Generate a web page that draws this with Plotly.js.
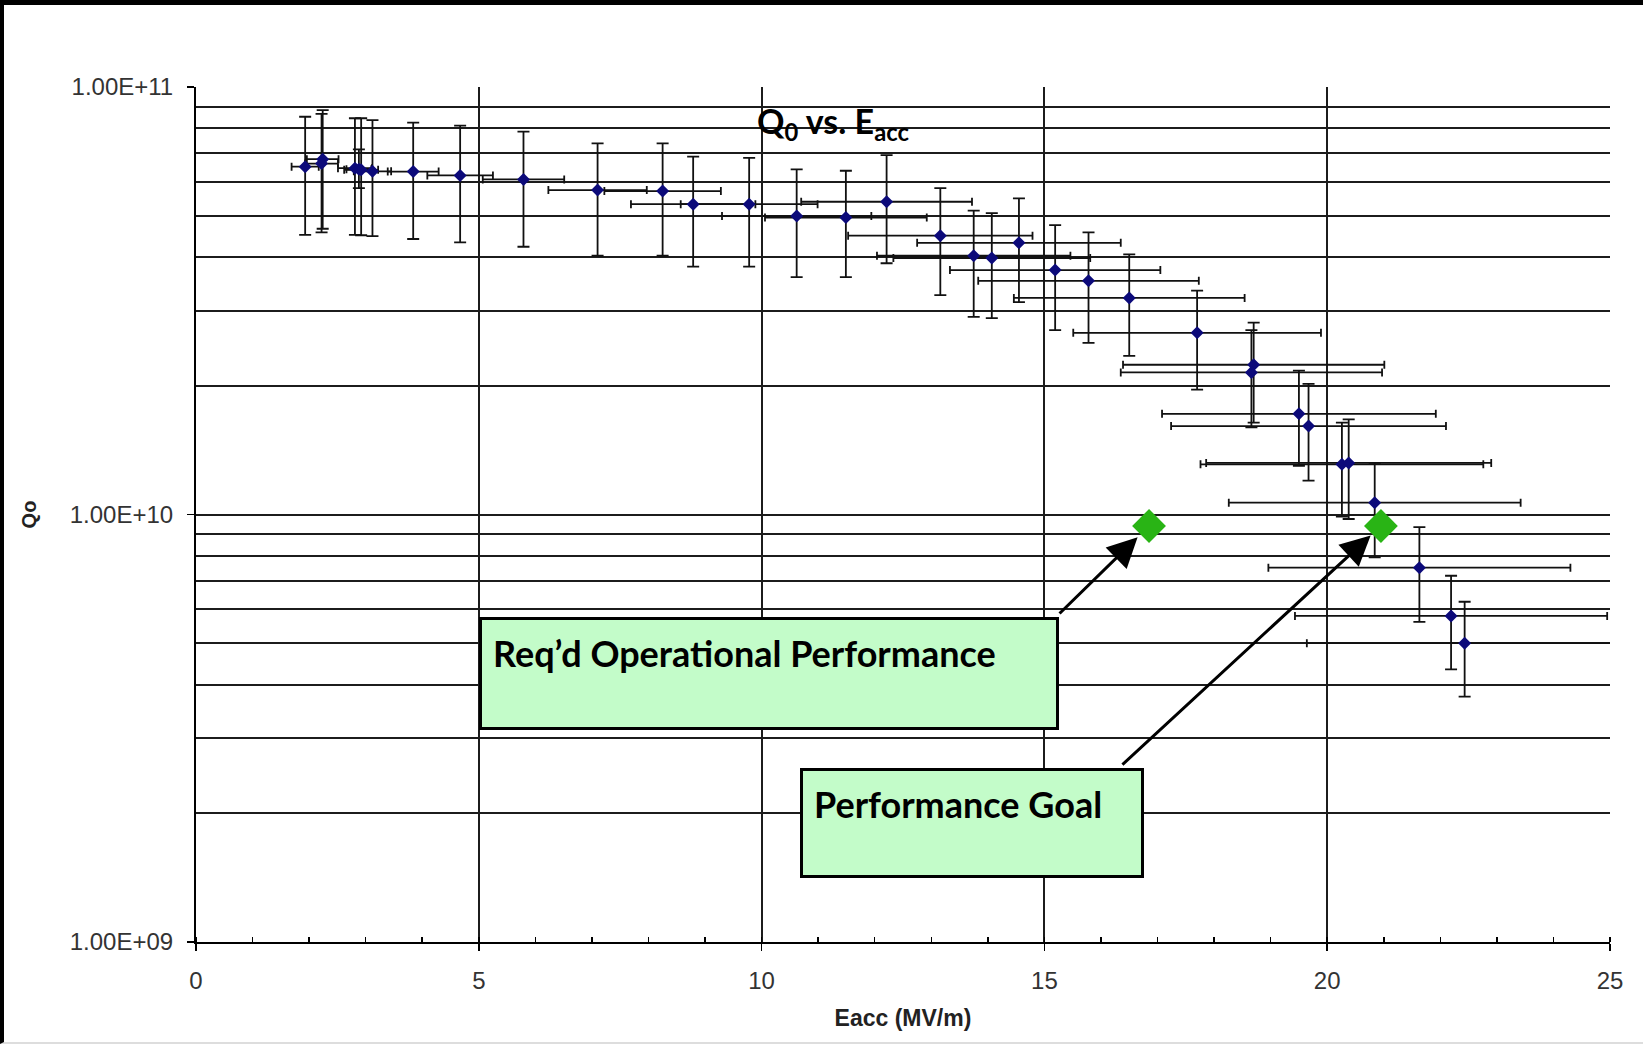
<!DOCTYPE html>
<html>
<head>
<meta charset="utf-8">
<script src="https://cdn.plot.ly/plotly-3.0.1.min.js"></script>
<style>
  html, body { margin: 0; padding: 0; background: #fff; }
  #chart { width: 1643px; height: 1044px; }
  #frame { position: absolute; left: 0; top: 0; width: 1643px; height: 1044px; box-sizing: border-box;
           border-top: 5px solid #000; border-left: 4px solid #000; border-bottom: 2px solid #ddd; pointer-events: none; }
</style>
</head>
<body>
<div id="chart"></div>
<div id="frame"></div>
<script>
const eacc    = [1.93, 2.24, 2.22, 2.81, 2.88, 2.92, 3.12, 3.84, 4.67, 5.79, 7.10, 8.25, 8.79, 9.78, 10.62, 11.49, 12.21, 13.16, 13.75, 14.07, 14.55, 15.19, 15.78, 16.50, 17.70, 18.70, 18.66, 19.50, 19.67, 20.26, 20.38, 20.84, 21.63, 22.19, 22.43];
const q0      = [6.51e10, 6.78e10, 6.62e10, 6.46e10, 6.42e10, 6.40e10, 6.35e10, 6.34e10, 6.21e10, 6.08e10, 5.74e10, 5.71e10, 5.32e10, 5.32e10, 4.99e10, 4.95e10, 5.39e10, 4.49e10, 4.03e10, 3.98e10, 4.32e10, 3.73e10, 3.52e10, 3.21e10, 2.66e10, 2.24e10, 2.15e10, 1.72e10, 1.61e10, 1.31e10, 1.32e10, 1.066e10, 7.51e9, 5.79e9, 5.00e9];
const q0High  = [8.52e10, 8.83e10, 8.65e10, 8.45e10, 7.15e10, 8.45e10, 8.37e10, 8.25e10, 8.12e10, 7.86e10, 7.38e10, 7.38e10, 6.87e10, 6.83e10, 6.42e10, 6.37e10, 6.93e10, 5.80e10, 5.14e10, 5.07e10, 5.49e10, 4.75e10, 4.57e10, 4.06e10, 3.34e10, 2.81e10, 2.70e10, 2.17e10, 2.02e10, 1.64e10, 1.67e10, 1.32e10, 9.34e9, 7.19e9, 6.25e9];
const q0Low   = [4.51e10, 4.66e10, 4.57e10, 4.51e10, 5.80e10, 4.50e10, 4.48e10, 4.41e10, 4.33e10, 4.23e10, 4.03e10, 4.03e10, 3.80e10, 3.80e10, 3.59e10, 3.59e10, 3.87e10, 3.26e10, 2.90e10, 2.88e10, 3.14e10, 2.70e10, 2.52e10, 2.35e10, 1.96e10, 1.64e10, 1.60e10, 1.30e10, 1.20e10, 9.89e9, 9.76e9, 7.94e9, 5.61e9, 4.34e9, 3.75e9];
const eaccErr = [0.24, 0.28, 0.29, 0.30, 0.22, 0.30, 0.33, 0.45, 0.58, 0.72, 0.87, 1.03, 1.10, 1.21, 1.32, 1.43, 1.51, 1.63, 1.71, 1.74, 1.80, 1.86, 1.95, 2.04, 2.19, 2.31, 2.31, 2.42, 2.43, 2.50, 2.52, 2.58, 2.67, 2.76, 2.79];

// Targets
const targetEacc  = [16.85, 20.95];
const targetQ0    = [9.4e9, 9.4e9];
const targetNames = ["Req\u2019d Operational Performance", "Performance Goal"];

// Axis ticks
const yTickVals = [1e9, 1e10, 1e11];
const yTickText = ["1.00E+09", "1.00E+10", "1.00E+11"];
const xTickVals = [0, 5, 10, 15, 20, 25];

// minor log gridlines 2..9 per decade
const yMinorVals = [];
[1e9, 1e10].forEach(d => { for (let k = 2; k <= 9; k++) yMinorVals.push(k * d); });

const errPlus  = q0High.map((h, i) => h - q0[i]);
const errMinus = q0Low.map((l, i) => q0[i] - l);

const gridColor = '#1c1c1c';

const traces = [
  {
    type: 'scatter', mode: 'markers', x: eacc, y: q0, name: 'Q0',
    marker: { symbol: 'diamond', size: 10, color: '#0c0a7a', line: { width: 0 } },
    error_y: { type: 'data', symmetric: false, array: errPlus, arrayminus: errMinus, color: '#111', thickness: 1.8, width: 6 },
    error_x: { type: 'data', array: eaccErr, color: '#111', thickness: 1.8, width: 4 },
    cliponaxis: false
  },
  {
    type: 'scatter', mode: 'markers', x: targetEacc, y: targetQ0, name: 'Targets',
    marker: { symbol: 'diamond', size: 26, color: '#29b415', line: { width: 0 } }
  }
];

const W = 1643, H = 1044;
const L = 196, R = 1610, T = 87, B = 942;
const px = v => (v - L) / (R - L);
const py = v => (B - v) / (B - T);

const boxFont = { family: 'Lato, "Open Sans", sans-serif', size: 36, color: '#000' };

const layout = {
  width: W, height: H,
  margin: { l: L, r: W - R, t: T, b: H - B, pad: 0 },
  paper_bgcolor: 'rgba(0,0,0,0)', plot_bgcolor: '#fff',
  showlegend: false,
  title: {
    text: '<b>Q<sub>0</sub> vs. E<sub>acc</sub></b>',
    font: { family: 'Lato, "Open Sans", sans-serif', size: 34, color: '#000' },
    x: 833 / W, xanchor: 'center', y: 1 - 122 / H, yanchor: 'middle'
  },
  xaxis: {
    range: [0, 25], tickmode: 'array', tickvals: xTickVals,
    ticks: 'outside', ticklen: 7, tickwidth: 1.5, tickcolor: '#000',
    ticklabelstandoff: 9,
    tickfont: { family: '"Liberation Sans", Arial, sans-serif', size: 24, color: '#333' },
    showgrid: true, gridcolor: gridColor, gridwidth: 2,
    showline: true, linecolor: '#000', linewidth: 2, zeroline: false,
    minor: { dtick: 1, ticks: 'inside', ticklen: 5, tickwidth: 1.5, tickcolor: '#000', showgrid: false },
    title: { text: '<b>Eacc (MV/m)</b>', standoff: 17,
             font: { family: '"Liberation Sans", Arial, sans-serif', size: 23, color: '#222' } }
  },
  yaxis: {
    type: 'log', range: [9, 11], tickmode: 'array', tickvals: yTickVals, ticktext: yTickText,
    ticks: 'outside', ticklen: 7, tickwidth: 1.5, tickcolor: '#000',
    ticklabelstandoff: 9,
    tickfont: { family: '"Liberation Sans", Arial, sans-serif', size: 24, color: '#333' },
    showgrid: true, gridcolor: gridColor, gridwidth: 2,
    showline: true, linecolor: '#000', linewidth: 2, zeroline: false,
    minor: { tickmode: 'array', tickvals: yMinorVals, ticks: '', showgrid: true, gridcolor: gridColor, gridwidth: 2 },
    title: { text: '<b>Qo</b>', standoff: 28,
             font: { family: '"Liberation Sans", Arial, sans-serif', size: 20, color: '#222' } }
  },
  annotations: [
    {
      xref: 'paper', yref: 'paper', x: px(479), y: py(617), xanchor: 'left', yanchor: 'top',
      text: '<b>' + targetNames[0] + '</b>', showarrow: false, align: 'left', valign: 'top',
      width: 580 - 28, height: 113 - 28, borderpad: 11, borderwidth: 3, bordercolor: '#000',
      bgcolor: '#c3fcc9', font: boxFont
    },
    {
      xref: 'paper', yref: 'paper', x: px(800), y: py(768), xanchor: 'left', yanchor: 'top',
      text: '<b>' + targetNames[1] + '</b>', showarrow: false, align: 'left', valign: 'top',
      width: 344 - 28, height: 110 - 28, borderpad: 11, borderwidth: 3, bordercolor: '#000',
      bgcolor: '#c3fcc9', font: boxFont
    },
    {
      xref: 'x', yref: 'y', x: targetEacc[0], y: Math.log10(targetQ0[0]), text: '',
      showarrow: true, ax: -91, ay: 89, axref: 'pixel', ayref: 'pixel',
      arrowhead: 2, arrowsize: 2, arrowwidth: 3, arrowcolor: '#000', standoff: 16
    },
    {
      xref: 'x', yref: 'y', x: targetEacc[1], y: Math.log10(targetQ0[1]), text: '',
      showarrow: true, ax: -260, ay: 240, axref: 'pixel', ayref: 'pixel',
      arrowhead: 2, arrowsize: 2, arrowwidth: 3, arrowcolor: '#000', standoff: 14
    }
  ]
};

Plotly.newPlot('chart', traces, layout, { displayModeBar: false, staticPlot: true });
</script>
</body>
</html>
